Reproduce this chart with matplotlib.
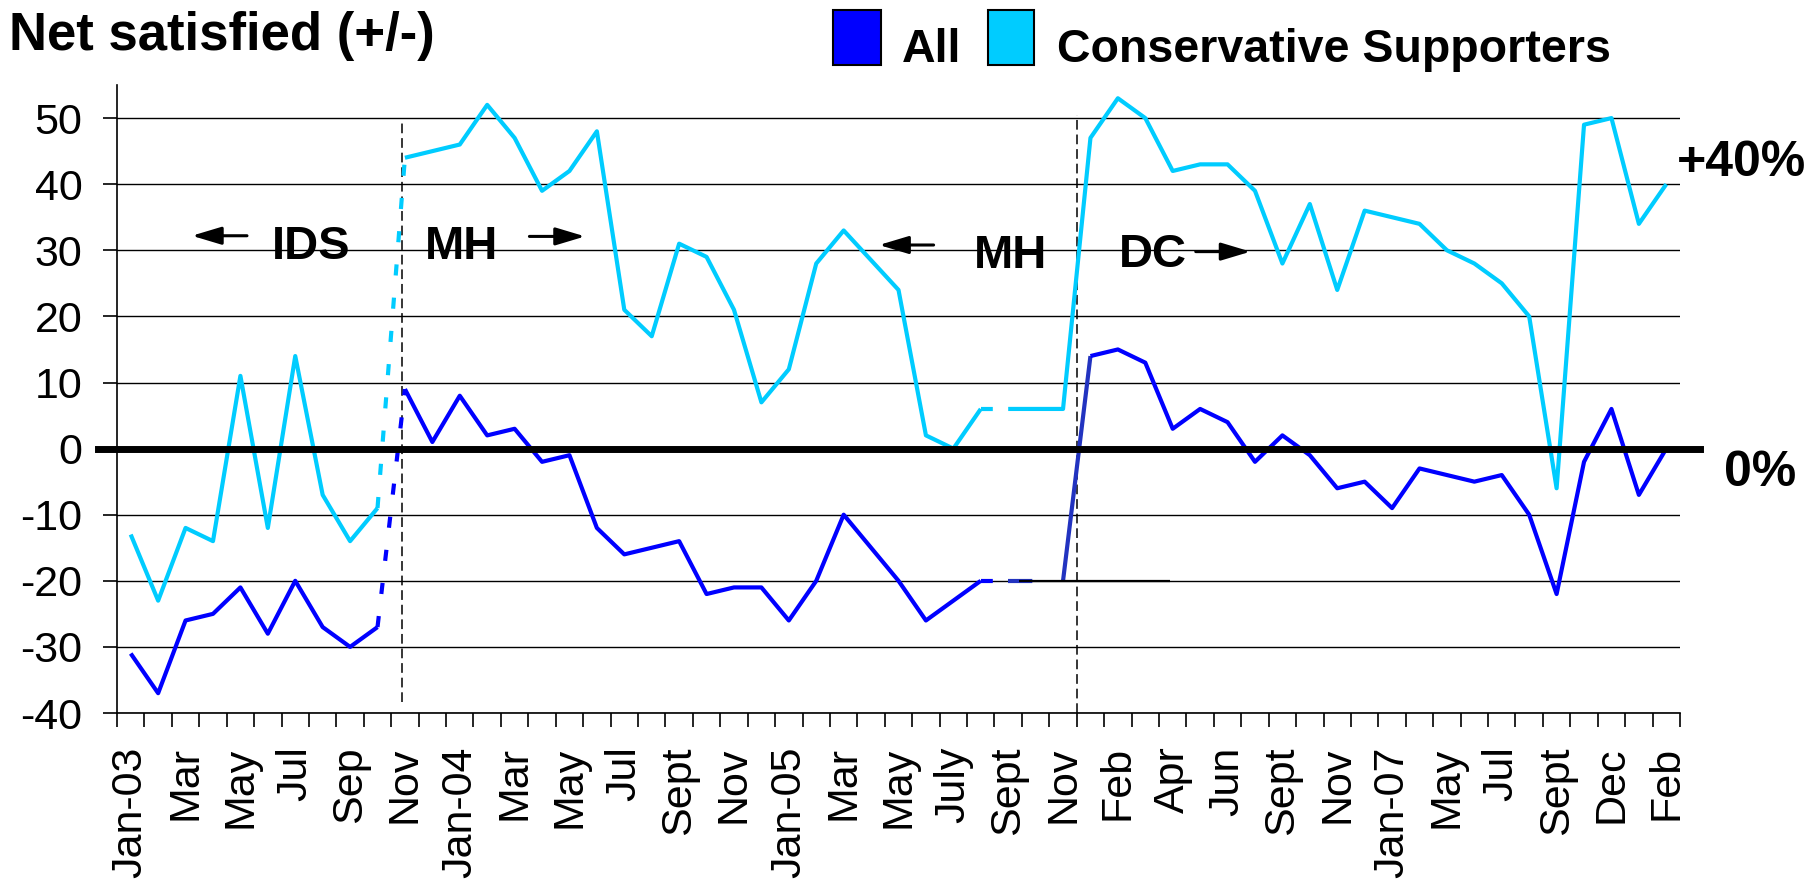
import numpy as np
import matplotlib
matplotlib.use('Agg')
import matplotlib.pyplot as plt
from matplotlib.patches import Rectangle

plt.rcParams['font.family'] = ['Liberation Sans', 'DejaVu Sans']
plt.rcParams['lines.scale_dashes'] = False
plt.rcParams['axes.unicode_minus'] = False

# one label every second survey point
tick_labels = ['Jan-03', 'Mar', 'May', 'Jul', 'Sep', 'Nov', 'Jan-04', 'Mar', 'May', 'Jul',
               'Sept', 'Nov', 'Jan-05', 'Mar', 'May', 'July', 'Sept', 'Nov', 'Feb', 'Apr',
               'Jun', 'Sept', 'Nov', 'Jan-07', 'May', 'Jul', 'Sept', 'Dec', 'Feb']

all_vals = [-31, -37, -26, -25, -21, -28, -20, -27, -30, -27,
            9, 1, 8, 2, 3, -2, -1, -12, -16, -15,
            -14, -22, -21, -21, -26, -20, -10, -15, -20, -26,
            -23, -20, -20, -20, -20, 14, 15, 13, 3, 6,
            4, -2, 2, -1, -6, -5, -9, -3, -4, -5,
            -4, -10, -22, -2, 6, -7, 0]

cons_vals = [-13, -23, -12, -14, 11, -12, 14, -7, -14, -9,
             44, 45, 46, 52, 47, 39, 42, 48, 21, 17,
             31, 29, 21, 7, 12, 28, 33, 28.5, 24, 2,
             0, 6, 6, 6, 6, 47, 53, 50, 42, 43,
             43, 39, 28, 37, 24, 36, 35, 34, 30, 28,
             25, 20, -6, 49, 50, 34, 40]

BLUE = '#0000FF'
CYAN = '#00CCFF'
DARK = '#2233C0'
LW = 3.0

x = np.arange(len(all_vals))
a = np.array(all_vals, dtype=float)
c = np.array(cons_vals, dtype=float)

fig = plt.figure(figsize=(18.17, 8.83), dpi=100)
ax = fig.add_axes([0.0644, 0.1925, 0.8602, 0.7112])


def seg(vals, i0, i1, color, dashes=None):
    kw = dict(color=color, lw=LW, solid_capstyle='butt', solid_joinstyle='round',
              dash_capstyle='butt', zorder=3)
    if dashes is not None:
        kw['dashes'] = dashes
    ax.plot(x[i0:i1 + 1], vals[i0:i1 + 1], **kw)


# Conservative supporters
seg(c, 0, 9, CYAN)
seg(c, 9, 10, CYAN, dashes=(8, 16))
seg(c, 10, 31, CYAN)
seg(c, 31, 32, CYAN, dashes=(8.5, 40))
seg(c, 32, 56, CYAN)

# All
seg(a, 0, 9, BLUE)
seg(a, 9, 10, BLUE, dashes=(8, 16))
seg(a, 10, 31, BLUE)
seg(a, 31, 32, BLUE, dashes=(8.5, 40))
seg(a, 32, 33, DARK, dashes=(17.5, 40))
seg(a, 34, 35, DARK)
seg(a, 35, 56, BLUE)
ax.hlines(-20, 32.4, 37.9, colors='black', lw=1.6, zorder=4)

# zero line, runs a little past both ends of the axis
ax.axhline(0, xmin=-0.0124, xmax=1.0128, color='black', lw=5, clip_on=False, zorder=5)

# leader changes
ax.vlines([9.89], -38.4, 49.6, colors='black', lw=1.1, linestyles=(0, (7, 3.5)), zorder=2)
ax.vlines([34.5], -40, 50.4, colors='black', lw=1.1, linestyles=(0, (7, 3.5)), zorder=2)

txt = dict(fontsize=34, fontweight='bold', ha='left', va='baseline')
ax.text(5.15, 28.7, 'IDS', **txt)
ax.text(10.74, 28.7, 'MH', **txt)
ax.text(30.75, 27.3, 'MH', **txt)
ax.text(36.02, 27.4, 'DC', **txt)
ax.text(56.38, 41.3, '+40%', fontsize=36, fontweight='bold', ha='left', va='baseline')
ax.text(58.1, -5.6, '0%', fontsize=36, fontweight='bold', ha='left', va='baseline')

arrow = dict(arrowstyle='-|>,head_length=1.0,head_width=0.3', color='black', lw=2.2,
             shrinkA=0, shrinkB=0, mutation_scale=18)
ax.annotate('', xy=(2.23, 32.2), xytext=(4.24, 32.2), arrowprops=arrow)
ax.annotate('', xy=(16.57, 32.1), xytext=(14.54, 32.1), arrowprops=arrow)
ax.annotate('', xy=(27.29, 30.8), xytext=(29.28, 30.8), arrowprops=arrow)
ax.annotate('', xy=(40.84, 29.8), xytext=(38.84, 29.8), arrowprops=arrow)

ax.set_xlim(-0.5, len(all_vals) - 0.5)
ax.set_ylim(-40, 55)
ax.set_xticks(np.arange(0, len(all_vals), 2))
ax.set_xticklabels(tick_labels, rotation=90, fontsize=31)
ax.set_xticks(np.arange(-0.5, len(all_vals), 1), minor=True)
ax.tick_params(axis='x', which='major', length=0, pad=24)
ax.tick_params(axis='x', which='minor', length=10, width=1.2, direction='out')
ax.set_yticks(range(-40, 51, 10))
ax.tick_params(axis='y', length=10, width=1.2, pad=15, labelsize=31)
ax.yaxis.grid(True, color='black', lw=1.0)
ax.set_axisbelow(True)
for s in ['top', 'right']:
    ax.spines[s].set_visible(False)
for s in ['left', 'bottom']:
    ax.spines[s].set_linewidth(1.2)

fig.text(9 / 1817, 1 - 50 / 883, 'Net satisfied (+/-)', fontsize=38, fontweight='bold',
         va='baseline')

# legend
fig.patches.append(Rectangle((833 / 1817, 1 - 65 / 883), 48 / 1817, 55 / 883,
                             transform=fig.transFigure, facecolor=BLUE, edgecolor='black', lw=1.5))
fig.patches.append(Rectangle((988 / 1817, 1 - 65 / 883), 46 / 1817, 55 / 883,
                             transform=fig.transFigure, facecolor=CYAN, edgecolor='black', lw=1.5))
fig.text(901.6 / 1817, 1 - 62 / 883, 'All', fontsize=33.5, fontweight='bold', va='baseline')
fig.text(1057 / 1817, 1 - 62 / 883, 'Conservative Supporters', fontsize=33.5,
         fontweight='bold', va='baseline')

fig.savefig('out.png', dpi=100)
